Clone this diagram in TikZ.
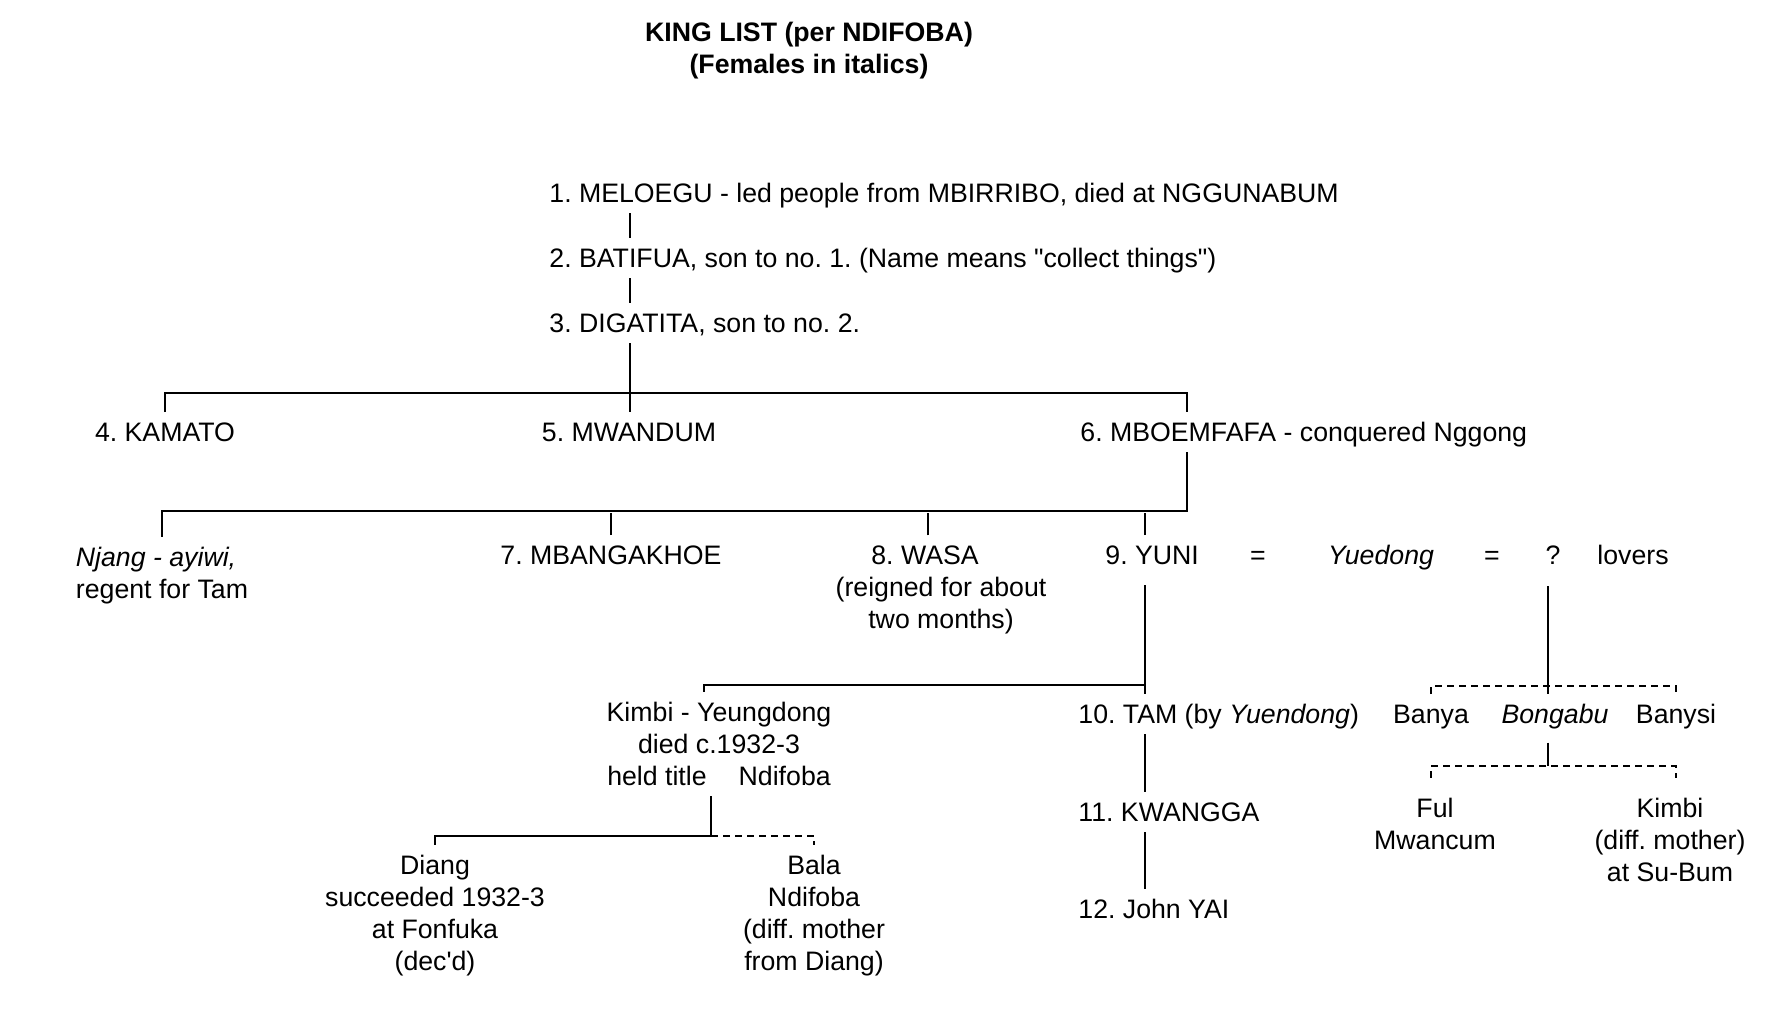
\documentclass[tikz,border=0pt]{standalone}
\usepackage{fontspec}
\setmainfont{Liberation Sans}
\usetikzlibrary{positioning}
\newcommand\kinsize{\fontsize{13.35pt}{16pt}\selectfont\frenchspacing}
\tikzset{
  kin text/.style={inner xsep=0pt,inner ysep=5pt,font=\kinsize},
  kin line/.style={kin text,text height=9.6pt,text depth=0pt},
  kin block/.style={kin text,align=center},
  descent/.style={line width=1pt},
  half descent/.style={descent,dash pattern=on 3.5pt off 2.5pt}
}

\begin{document}
\begin{tikzpicture}[x=0.5pt,y=-0.5pt]
\useasboundingbox (0,0) rectangle (1781,1022);
\node[kin block,font=\kinsize\bfseries,anchor=base] (title) at (809,73.5) {KING LIST (per NDIFOBA)\\(Females in italics)};

% first three kings
\node[kin line,anchor=west] (k1) at (549,193) {1. MELOEGU - led people from MBIRRIBO, died at NGGUNABUM};
\node[kin line,anchor=west] (k2) at (549,258) {2. BATIFUA, son to no. 1. (Name means \textquotedbl collect things\textquotedbl)};
\node[kin line,anchor=west] (k3) at (549,323) {3. DIGATITA, son to no. 2.};

% sons of no. 3
\node[kin line] (k4) at (165,432) {4. KAMATO};
\node[kin line] (k5) at (629,432) {5. MWANDUM};
\node[kin line,anchor=west] (k6) at (1080,432) {6. MBOEMFAFA - conquered Nggong};

% children of no. 6
\node[kin block,align=left,anchor=base] (njang) at (162,598.5) {\textit{Njang - ayiwi,}\\regent for Tam};
\node[kin line] (k7) at (611,555) {7. MBANGAKHOE};
\node[kin block,anchor=base] (k8) at (941,628.5) {8. WASA\hspace*{16pt}\\(reigned for about\\two months)};
\node[kin line,anchor=west] (k9) at (1105,555) {9. YUNI};
\node[kin line] (eq1) at (1258,555) {=};
\node[kin line] (yuedong) at (1381,555) {\textit{Yuedong}};
\node[kin line] (eq2) at (1492,555) {=};
\node[kin line] (unk) at (1553,555) {?};
\node[kin line] (lovers) at (1633,555) {lovers};

% children of Yuni and Yuedong
\node[kin block,anchor=base] (kimbi) at (719,785.5) {Kimbi - Yeungdong\\died c.1932-3\\held title\hspace{16pt}Ndifoba};
\node[kin line,anchor=west] (k10) at (1078,714) {10. TAM (by \textit{Yuendong})};
\node[kin line,anchor=west] (k11) at (1078,812) {11. KWANGGA};
\node[kin line,anchor=west] (k12) at (1078,909) {12. John YAI};
\node[kin line] (banya) at (1431,714) {Banya};
\node[kin line] (bongabu) at (1555,714) {\textit{Bongabu}};
\node[kin line] (banysi) at (1676,714) {Banysi};

% grandchildren
\node[kin block,anchor=base] (diang) at (435,970.5) {Diang\\succeeded 1932-3\\at Fonfuka\\(dec\textquotesingle d)};
\node[kin block,anchor=base] (bala) at (814,970.5) {Bala\\Ndifoba\\(diff. mother\\from Diang)};
\node[kin block,anchor=base] (ful) at (1435,849.5) {Ful\\Mwancum};
\node[kin block,anchor=base] (kimbib) at (1670,881.5) {Kimbi\\(diff. mother)\\at Su-Bum};

% forks
\coordinate (forkA) at (630,393);
\coordinate (forkB) at (1187,511);
\coordinate (forkC) at (1145,685);
\coordinate (forkD) at (711,836);
\coordinate (forkE) at (1548,686);
\coordinate (forkF) at (1548,766);

\draw[descent] (k1.south -| forkA) -- (k2.north -| forkA);
\draw[descent] (k2.south -| forkA) -- (k3.north -| forkA);
\draw[descent] (k3.south -| forkA) -- (k5.north -| forkA);
\draw[descent] (k4.north) |- (forkA) -| (k6.north -| forkB);
\draw[descent] (k6.south -| forkB) -- (forkB) -| (njang.north);
\draw[descent] (k7.north) -- ([yshift=-1pt]k7.north |- forkB);
\draw[descent] ([xshift=-6.5pt]k8.north) -- ([xshift=-6.5pt,yshift=-1pt]k8.north |- forkB);
\draw[descent] (k9.north -| forkC) -- ([yshift=-1pt]forkB -| forkC);
\draw[descent] ([yshift=-5pt]k9.south -| forkC) -- (k10.north -| forkC);
\draw[descent] (forkC) -| ([xshift=-7.5pt]kimbi.north);
\draw[descent] (k10.south -| forkC) -- (k11.north -| forkC);
\draw[descent] (k11.south -| forkC) -- (k12.north -| forkC);
\draw[descent] (kimbi.south -| forkD) -- (forkD) -| (diang.north);
\draw[half descent] (forkD) -| (bala.north);
\draw[descent] ([yshift=-5.5pt]unk.south -| forkE) -- (bongabu.north -| forkE);
\draw[half descent] (banya.north) |- (forkE) -| (banysi.north);
\draw[descent] ([yshift=-4.25pt]bongabu.south -| forkF) -- (forkF);
\draw[half descent] ([yshift=5pt]ful.north -| banya.north) |- (forkF) -| ([yshift=5pt]kimbib.north -| banysi.north);
\end{tikzpicture}
\end{document}
